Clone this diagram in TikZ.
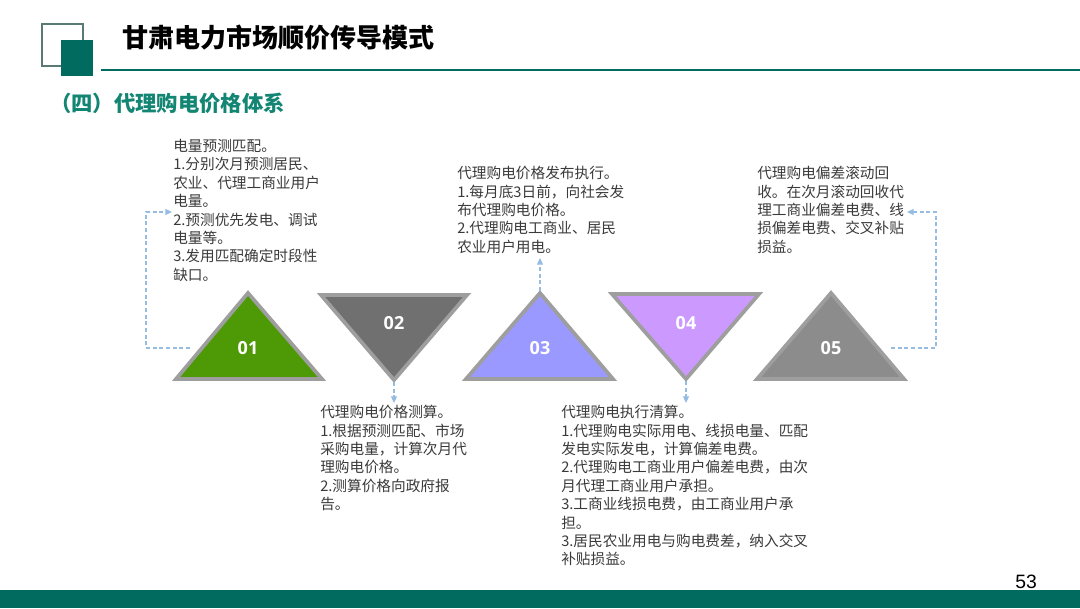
\documentclass[tikz,border=0pt]{standalone}
\usepackage{fontspec}
\setmainfont{Noto Sans CJK SC}
\newfontfamily\numfont{Open Sans}
\newfontfamily\pagefont{Liberation Sans}
\usepackage{tikz}
\usetikzlibrary{arrows.meta}
\definecolor{darkteal}{RGB}{0, 107, 94}
\definecolor{lightteal}{RGB}{18, 133, 115}
\definecolor{textgray}{RGB}{58, 58, 58}
\definecolor{edgegray}{RGB}{158, 158, 158}
\definecolor{linkblue}{RGB}{150, 188, 226}
\definecolor{leafgreen}{RGB}{78, 154, 6}
\definecolor{slategray}{RGB}{112, 112, 112}
\definecolor{periwinkle}{RGB}{153, 153, 255}
\definecolor{lilac}{RGB}{204, 153, 255}
\definecolor{stonegray}{RGB}{140, 140, 140}

\begin{document}
\begin{tikzpicture}[
    x=0.75pt, y=-0.75pt,
    tri/.style={draw=edgegray, line width=2.8pt},
    num/.style={font=\numfont\bfseries\fontsize{13.5}{16}\selectfont, text=white, inner sep=0},
    desc/.style={anchor=north west, align=left, inner sep=0, text=textgray, font=\fontsize{11}{13.8}\selectfont},
    link/.style={draw=linkblue, thick, dash pattern=on 3pt off 2pt, -{Triangle[length=5pt, width=4.5pt]}}
]
    \useasboundingbox (0,0) rectangle (1080,608);

    % Header
    \draw [draw=gray!70!darkteal, line width=0.8pt] (42,24) rectangle (83,66);
    \fill [darkteal] (61,40) rectangle (93,76);
    \draw [darkteal, line width=1.6pt] (101,70) -- (1080,70);
    \node (title) [anchor=west, inner sep=0, font=\bfseries\fontsize{19.5}{22}\selectfont] at (122,38) {甘肃电力市场顺价传导模式};
    \node (subtitle) [anchor=west, inner sep=0, text=lightteal, font=\bfseries\fontsize{16}{18}\selectfont] at (50,103) {（四）代理购电价格体系};

    % Footer
    \fill [darkteal] (0,590) rectangle (1080,608);
    \node (page) [inner sep=0, font=\pagefont\fontsize{14.5}{16}\selectfont] at (1026,582) {53};

    % Triangles
    \draw [tri, fill=leafgreen] (176,379) -- (248,293) -- (322,379) -- cycle;
    \draw [tri, fill=slategray] (321,295) -- (467,295) -- (394,380) -- cycle;
    \draw [tri, fill=periwinkle] (466,379) -- (540,293) -- (613,379) -- cycle;
    \draw [tri, fill=lilac] (612,294) -- (759,294) -- (686,379) -- cycle;
    \draw [tri, fill=stonegray] (757,379) -- (831,293) -- (904,379) -- cycle;

    \node (n1) [num] at (248,348) {01};
    \node (n2) [num] at (394,323) {02};
    \node (n3) [num] at (540,348) {03};
    \node (n4) [num] at (686,323) {04};
    \node (n5) [num] at (831,348) {05};

    % Descriptions
    \node (txt1) [desc] at (173,139) {电量预测匹配。\\1.分别次月预测居民、\\农业、代理工商业用户\\电量。\\2.预测优先发电、调试\\电量等。\\3.发用匹配确定时段性\\缺口。};
    \node (txt2) [desc] at (320,405) {代理购电价格测算。\\1.根据预测匹配、市场\\采购电量，计算次月代\\理购电价格。\\2.测算价格向政府报\\告。};
    \node (txt3) [desc] at (457,166) {代理购电价格发布执行。\\1.每月底3日前，向社会发\\布代理购电价格。\\2.代理购电工商业、居民\\农业用户用电。};
    \node (txt4) [desc] at (561,405) {代理购电执行清算。\\1.代理购电实际用电、线损电量、匹配\\发电实际发电，计算偏差电费。\\2.代理购电工商业用户偏差电费，由次\\月代理工商业用户承担。\\3.工商业线损电费，由工商业用户承\\担。\\3.居民农业用电与购电费差，纳入交叉\\补贴损益。};
    \node (txt5) [desc] at (757,166) {代理购电偏差滚动回\\收。在次月滚动回收代\\理工商业偏差电费、线\\损偏差电费、交叉补贴\\损益。};

    % Connectors
    \coordinate (s1) at (190,348);
    \coordinate (e1) at (172,212);
    \coordinate (s2) at (394,382);
    \coordinate (e2) at (394,403);
    \coordinate (s3) at (540,291);
    \coordinate (e3) at (540,258);
    \coordinate (s4) at (686,381);
    \coordinate (e4) at (686,403);
    \coordinate (s5) at (891,348);
    \coordinate (e5) at (907,212);

    \draw [link] (s1) -- ++(-44,0) |- (e1);
    \draw [link] (s2) -- (e2);
    \draw [link] (s3) -- (e3);
    \draw [link] (s4) -- (e4);
    \draw [link] (s5) -- ++(45,0) |- (e5);

\end{tikzpicture}
\end{document}
